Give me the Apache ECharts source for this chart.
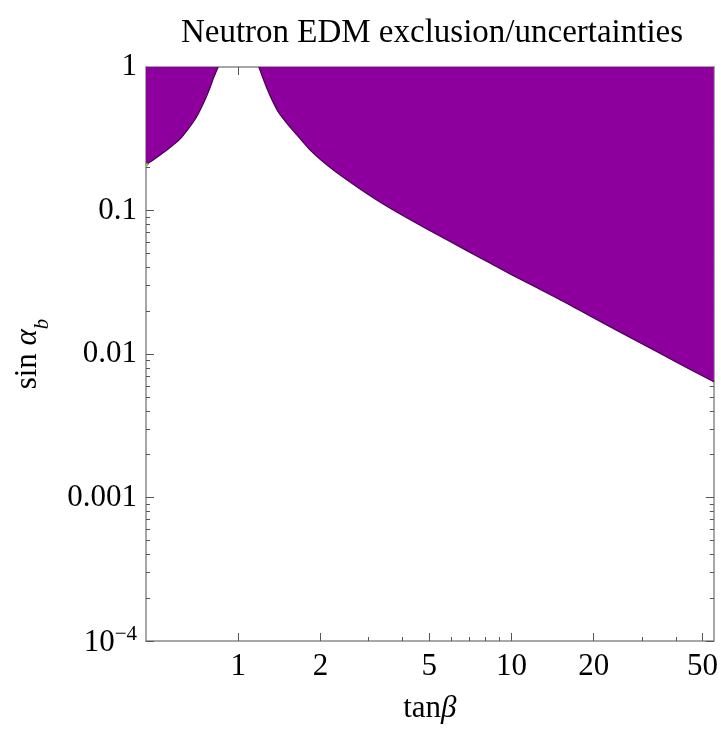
<!DOCTYPE html>
<html>
<head>
<meta charset="utf-8">
<script src="https://cdn.jsdelivr.net/npm/echarts@6/dist/echarts.min.js"></script>
<style>
html,body{margin:0;padding:0;background:#fff;}
#chart{width:721px;height:729px;}
</style>
</head>
<body>
<div id="chart"></div>
<script>
// ---- data ----
const TITLE = 'Neutron EDM exclusion/uncertainties';
const X_MIN = 0.46, X_MAX = 55;
const Y_MIN = 0.0001, Y_MAX = 1;

const X_MAJOR = [1, 2, 5, 10, 20, 50];
const X_MAJOR_LABELS = ['1', '2', '5', '10', '20', '50'];
const X_MINOR = [3, 4, 6, 7, 8, 9, 30, 40];

const Y_MAJOR = [0.0001, 0.001, 0.01, 0.1, 1];
const Y_MAJOR_LABELS = ['{b|10}{s|\u22124}', '0.001', '0.01', '0.1', '1'];
const Y_MINOR = [
  0.0002, 0.0003, 0.0004, 0.0005, 0.0006, 0.0007, 0.0008, 0.0009,
  0.002, 0.003, 0.004, 0.005, 0.006, 0.007, 0.008, 0.009,
  0.02, 0.03, 0.04, 0.05, 0.06, 0.07, 0.08, 0.09,
  0.2, 0.3, 0.4, 0.5, 0.6, 0.7, 0.8, 0.9
];

// excluded region boundary (left lobe, tanβ < 1)
const LEFT_TANB = [0.46, 0.50, 0.55, 0.611, 0.66, 0.705, 0.75, 0.785, 0.815, 0.835, 0.845];
const LEFT_SINA = [0.208, 0.232, 0.265, 0.313, 0.375, 0.45, 0.57, 0.70, 0.85, 0.95, 1.0];

// excluded region boundary (right lobe, tanβ > 1)
const RIGHT_TANB = [1.19, 1.22, 1.27, 1.33, 1.408, 1.5, 1.6, 1.854, 2.2, 2.81, 3.5, 4.92, 7, 10, 15, 20, 30, 40, 55];
const RIGHT_SINA = [1.0, 0.88, 0.72, 0.59, 0.48, 0.41, 0.355, 0.258, 0.195, 0.14, 0.107, 0.074, 0.0515, 0.0357, 0.024, 0.0178, 0.0118, 0.0088, 0.0064];

// small uncertainty sliver at the left edge
const GREEN_TANB = [0.46, 0.468];
const GREEN_SINA = [0.205, 0.212];

// ---- styles ----
const FONT = 'Liberation Serif';
const PURPLE = 'rgb(142,0,158)';
const EDGE = 'rgb(70,0,80)';
const FRAME = '#8a8a8a';
const TICK = '#555';

function zip(a, b) { return a.map((v, i) => [v, b[i]]); }
function findLabel(v, ticks, labels) {
  for (let i = 0; i < ticks.length; i++) {
    if (Math.abs(Math.log10(ticks[i]) - Math.log10(v)) < 1e-6) return labels[i];
  }
  return '';
}

function xAxisDef(position, values, len, showLabel, showLine) {
  return {
    type: 'log', position: position, min: X_MIN, max: X_MAX, logBase: 10,
    axisLine: { show: showLine, onZero: false, lineStyle: { color: FRAME, width: 1.5 } },
    axisTick: { show: true, inside: true, length: len, customValues: values, lineStyle: { color: TICK, width: 1 } },
    axisLabel: showLabel ? {
      show: true, customValues: X_MAJOR, margin: 10,
      formatter: v => findLabel(v, X_MAJOR, X_MAJOR_LABELS),
      fontFamily: FONT, fontSize: 31, color: '#000'
    } : { show: false },
    splitLine: { show: false }, minorTick: { show: false }, minorSplitLine: { show: false }
  };
}
function yAxisDef(position, values, len, showLabel, showLine) {
  return {
    type: 'log', position: position, min: Y_MIN, max: Y_MAX, logBase: 10,
    axisLine: { show: showLine, onZero: false, lineStyle: { color: FRAME, width: 1.5 } },
    axisTick: { show: true, inside: true, length: len, customValues: values, lineStyle: { color: TICK, width: 1 } },
    axisLabel: showLabel ? {
      show: true, customValues: Y_MAJOR, margin: 9,
      formatter: v => findLabel(v, Y_MAJOR, Y_MAJOR_LABELS),
      fontFamily: FONT, fontSize: 31, color: '#000',
      rich: {
        b: { fontFamily: FONT, fontSize: 31, color: '#000', lineHeight: 35, verticalAlign: 'bottom' },
        s: { fontFamily: FONT, fontSize: 21, color: '#000', lineHeight: 21, verticalAlign: 'top' }
      }
    } : { show: false },
    splitLine: { show: false }, minorTick: { show: false }, minorSplitLine: { show: false }
  };
}

const xAxes = [
  xAxisDef('bottom', X_MAJOR, 8, true, true),
  xAxisDef('bottom', X_MINOR, 4, false, false),
  xAxisDef('top', X_MAJOR, 8, false, true),
  xAxisDef('top', X_MINOR, 4, false, false)
];
xAxes[0].name = '{a|tan}{i|\u03B2}';
xAxes[0].nameLocation = 'middle';
xAxes[0].nameGap = 52;
xAxes[0].nameTextStyle = {
  fontFamily: FONT, fontSize: 31, color: '#000',
  rich: {
    a: { fontFamily: FONT, fontSize: 31, color: '#000' },
    i: { fontFamily: FONT, fontSize: 31, color: '#000', fontStyle: 'italic' }
  }
};

const yAxes = [
  yAxisDef('left', Y_MAJOR, 8, true, true),
  yAxisDef('left', Y_MINOR, 4, false, false),
  yAxisDef('right', Y_MAJOR, 8, false, true),
  yAxisDef('right', Y_MINOR, 4, false, false)
];
yAxes[0].name = '{a|sin }{i|\u03B1}{sub|b}';
yAxes[0].nameLocation = 'middle';
yAxes[0].nameRotate = 90;
yAxes[0].nameGap = 93;
yAxes[0].nameTextStyle = {
  fontFamily: FONT, fontSize: 31, color: '#000',
  rich: {
    a: { fontFamily: FONT, fontSize: 31, color: '#000', lineHeight: 35, verticalAlign: 'top' },
    i: { fontFamily: FONT, fontSize: 31, color: '#000', fontStyle: 'italic', lineHeight: 35, verticalAlign: 'top' },
    sub: { fontFamily: FONT, fontSize: 21, color: '#000', fontStyle: 'italic', lineHeight: 41, verticalAlign: 'bottom' }
  }
};

function regionSeries(name, data) {
  return {
    name: name, type: 'line', xAxisIndex: 0, yAxisIndex: 0,
    data: data, showSymbol: false, symbol: 'none',
    smooth: 0.2,
    lineStyle: { color: EDGE, width: 1.2 },
    areaStyle: { color: PURPLE, opacity: 1, origin: 'end' },
    silent: true, z: 2
  };
}

const option = {
  animation: false,
  backgroundColor: '#fff',
  title: {
    text: TITLE, left: 427, top: 12, textAlign: 'center',
    textStyle: { fontFamily: FONT, fontSize: 33, fontWeight: 'normal', color: '#000' }
  },
  grid: { left: 146, right: 2, top: 67, bottom: 87, containLabel: false },
  xAxis: xAxes,
  yAxis: yAxes,
  series: [
    regionSeries('left', zip(LEFT_TANB, LEFT_SINA)),
    regionSeries('right', zip(RIGHT_TANB, RIGHT_SINA)),
    {
      name: 'uncertainty', type: 'line', xAxisIndex: 0, yAxisIndex: 0,
      data: zip(GREEN_TANB, GREEN_SINA), showSymbol: false, symbol: 'none',
      lineStyle: { color: '#7ccc3a', width: 2.5 }, silent: true, z: 3
    }
  ]
};

const chart = echarts.init(document.getElementById('chart'), null, { renderer: 'canvas' });
chart.setOption(option);
</script>
</body>
</html>
